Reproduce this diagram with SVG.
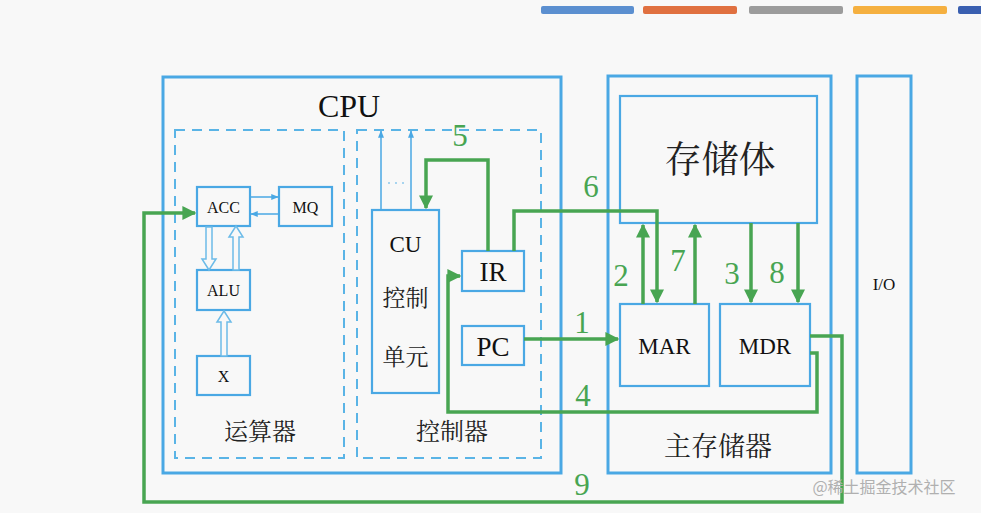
<svg xmlns="http://www.w3.org/2000/svg" width="981" height="513" viewBox="0 0 981 513">
<defs>
<style>
.bg{fill:#f8f8f8}
.big{fill:none;stroke:#4aa8e4;stroke-width:3}
.box{fill:#f8f8f8;stroke:#4aa8e4;stroke-width:2.2}
.dash{fill:none;stroke:#5ab4e6;stroke-width:2;stroke-dasharray:10 7}
.thin{fill:none;stroke:#4aa8e4;stroke-width:1.5}
.hollow{fill:#f8f8f8;stroke:#6cbbe8;stroke-width:1.5}
.g{fill:none;stroke:#48a552;stroke-width:3.5;stroke-linejoin:miter}
.t{fill:#111;text-anchor:middle}
.c{fill:#222;text-anchor:middle}
.n{fill:#48a552;text-anchor:middle}
</style>
<marker id="ga" viewBox="0 0 10 10" refX="9" refY="5" markerWidth="4" markerHeight="4" orient="auto" markerUnits="strokeWidth">
<path d="M0,0 L10,5 L0,10 z" fill="#48a552"/>
</marker>
<marker id="ba" viewBox="0 0 10 10" refX="9" refY="5" markerWidth="5" markerHeight="5" orient="auto" markerUnits="strokeWidth">
<path d="M0,1 L10,5 L0,9 z" fill="#4aa8e4"/>
</marker>
</defs>
<rect class="bg" x="0" y="0" width="981" height="513"/>
<g id="topbars">
<rect x="541" y="6" width="93" height="8" rx="2" fill="#5b8fd0"/>
<rect x="643" y="6" width="94" height="8" rx="2" fill="#e07040"/>
<rect x="749" y="6" width="94" height="8" rx="2" fill="#9c9c9c"/>
<rect x="853" y="6" width="94" height="8" rx="2" fill="#f5b040"/>
<rect x="958" y="6" width="30" height="8" rx="2" fill="#3a5fb0"/>
</g>
<g id="cpu">
<rect class="big" x="163" y="77" width="398" height="396"/>
<text class="t" x="349" y="117" font-size="32" font-family="Liberation Serif, serif">CPU</text>
</g>
<g id="alu-group">
<rect class="dash" x="175" y="130" width="169" height="328"/>
<text class="c" x="260" y="440" font-size="24" font-family="Noto Serif CJK SC, Noto Sans CJK SC, serif">运算器</text>
</g>
<g id="ctrl-group">
<rect class="dash" x="357" y="130" width="184" height="328"/>
<text class="c" x="452" y="440" font-size="24" font-family="Noto Serif CJK SC, Noto Sans CJK SC, serif">控制器</text>
</g>
<g id="acc"><rect class="box" x="197" y="187" width="53" height="39"/><text class="t" x="223.5" y="213" font-size="16" font-family="Liberation Serif, serif">ACC</text></g>
<g id="mq"><rect class="box" x="279" y="187" width="53" height="39"/><text class="t" x="305.5" y="213" font-size="16" font-family="Liberation Serif, serif">MQ</text></g>
<g id="alu"><rect class="box" x="197" y="270" width="53" height="40"/><text class="t" x="223.5" y="296" font-size="16" font-family="Liberation Serif, serif">ALU</text></g>
<g id="x"><rect class="box" x="197" y="356" width="53" height="39"/><text class="t" x="223.5" y="382" font-size="16" font-family="Liberation Serif, serif">X</text></g>
<g id="cu"><rect class="box" x="372" y="210" width="67" height="183"/>
<text class="t" x="405.5" y="252" font-size="23" font-family="Liberation Serif, serif">CU</text>
<text class="c" x="405.5" y="306" font-size="23" font-family="Noto Serif CJK SC, Noto Sans CJK SC, serif">控制</text>
<text class="c" x="405.5" y="365" font-size="23" font-family="Noto Serif CJK SC, Noto Sans CJK SC, serif">单元</text>
</g>
<g id="ir"><rect class="box" x="462" y="251" width="62" height="40"/><text class="t" x="493" y="281" font-size="27" font-family="Liberation Serif, serif">IR</text></g>
<g id="pc"><rect class="box" x="462" y="326" width="62" height="39"/><text class="t" x="493" y="356" font-size="27" font-family="Liberation Serif, serif">PC</text></g>
<g id="memory">
<rect class="big" x="608" y="76" width="223" height="397"/>
<text class="c" x="718" y="456" font-size="27" font-family="Noto Serif CJK SC, Noto Sans CJK SC, serif">主存储器</text>
</g>
<g id="storage"><rect class="box" x="620" y="96" width="197" height="127"/><text class="c" x="720" y="173" font-size="37" font-family="Noto Serif CJK SC, Noto Sans CJK SC, serif">存储体</text></g>
<g id="mar"><rect class="box" x="620" y="304" width="89" height="82"/><text class="t" x="664.5" y="354" font-size="23" font-family="Liberation Serif, serif">MAR</text></g>
<g id="mdr"><rect class="box" x="720" y="304" width="90" height="82"/><text class="t" x="765" y="354" font-size="23" font-family="Liberation Serif, serif">MDR</text></g>
<g id="io"><rect class="big" x="857" y="76" width="54" height="397"/><text class="t" x="884" y="290" font-size="17" font-family="Liberation Serif, serif">I/O</text></g>
<g id="connectors">
<line class="thin" x1="250" y1="197" x2="278" y2="197" marker-end="url(#ba)"/>
<line class="thin" x1="279" y1="214" x2="251" y2="214" marker-end="url(#ba)"/>
<path class="hollow" d="M206,227 V259 H202 L209,270 L216,259 H212 V227 Z"/>
<path class="hollow" d="M233,270 V237 H229 L236,226 L243,237 H239 V270 Z"/>
<path class="hollow" d="M221,356 V322 H217 L224,311 L231,322 H227 V356 Z"/>
<line class="thin" x1="381" y1="210" x2="381" y2="131" marker-end="url(#ba)"/>
<line class="thin" x1="411" y1="210" x2="411" y2="131" marker-end="url(#ba)"/>
<g fill="#8cc8ec"><circle cx="389" cy="183" r="1"/><circle cx="396" cy="183" r="1"/><circle cx="403" cy="183" r="1"/></g>
<path class="g" d="M524,339 H618" marker-end="url(#ga)"/>
<path class="g" d="M643,304 V225" marker-end="url(#ga)"/>
<path class="g" d="M751,223 V302" marker-end="url(#ga)"/>
<path class="g" d="M810,353 H817 V412 H448 V276 H460" marker-end="url(#ga)"/>
<path class="g" d="M488,251 V160 H426 V208" marker-end="url(#ga)"/>
<path class="g" d="M514,251 V211 H657 V302" marker-end="url(#ga)"/>
<path class="g" d="M695,304 V225" marker-end="url(#ga)"/>
<path class="g" d="M798,223 V302" marker-end="url(#ga)"/>
<path class="g" d="M810,336 H842 V502 H144 V213 H195" marker-end="url(#ga)"/>
<text class="n" x="582" y="333" font-size="31" font-family="Liberation Serif, serif">1</text>
<text class="n" x="621" y="286" font-size="31" font-family="Liberation Serif, serif">2</text>
<text class="n" x="732" y="284" font-size="31" font-family="Liberation Serif, serif">3</text>
<text class="n" x="583" y="406" font-size="31" font-family="Liberation Serif, serif">4</text>
<text class="n" x="460" y="146" font-size="31" font-family="Liberation Serif, serif">5</text>
<text class="n" x="591" y="197" font-size="31" font-family="Liberation Serif, serif">6</text>
<text class="n" x="678" y="271" font-size="31" font-family="Liberation Serif, serif">7</text>
<text class="n" x="777" y="283" font-size="31" font-family="Liberation Serif, serif">8</text>
<text class="n" x="582" y="495" font-size="31" font-family="Liberation Serif, serif">9</text>
</g>
<text x="884" y="493" font-family="Noto Sans CJK SC, sans-serif" font-size="16" fill="#b0b0b0" text-anchor="middle">@稀土掘金技术社区</text>
</svg>
